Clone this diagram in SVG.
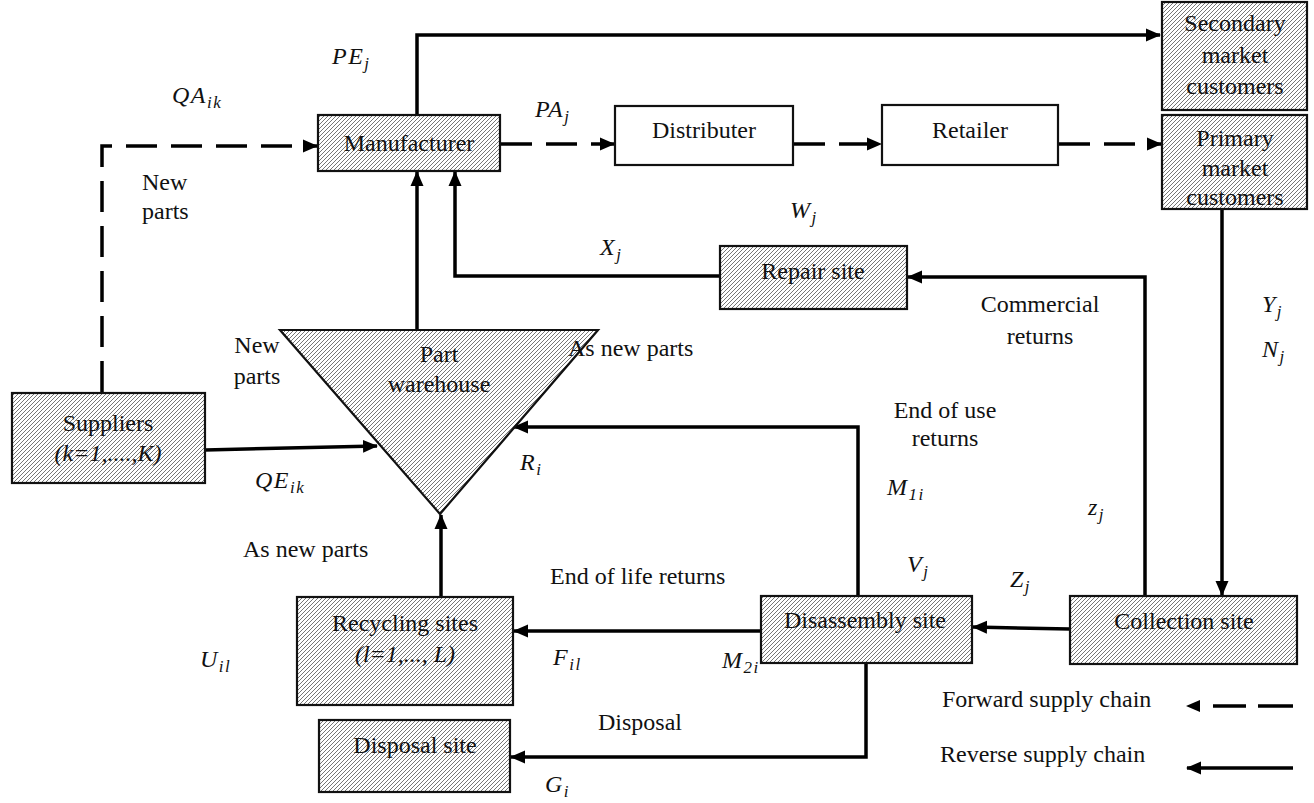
<svg xmlns="http://www.w3.org/2000/svg" width="1314" height="803" viewBox="0 0 1314 803">
<style>
text{font-family:"Liberation Serif","Times New Roman",serif;font-size:24px;fill:#111}
.c{text-anchor:middle}
.m{font-style:italic;font-size:24px;letter-spacing:1.5px}
.s{font-size:17px}
.it{font-style:italic}
.box{fill:url(#hatch);stroke:#111;stroke-width:2.2}
.plain{fill:#fff;stroke:#111;stroke-width:2.2}
.ln{fill:none;stroke:#000;stroke-width:3.5}
.dash{fill:none;stroke:#000;stroke-width:3.5;stroke-dasharray:31 14}
</style>
<defs>
<pattern id="hatch" patternUnits="userSpaceOnUse" width="4" height="4">
<rect width="4" height="4" fill="#fff"/>
<path d="M-1,1 L1,-1 M0,4 L4,0 M3,5 L5,3" stroke="#666" stroke-width="0.9"/>
</pattern>
<marker id="ah" viewBox="0 0 15 15" markerUnits="userSpaceOnUse" markerWidth="15" markerHeight="15" refX="14" refY="7.5" orient="auto">
<path d="M0,1 L15,7.5 L0,14 Z" fill="#000"/>
</marker>
</defs>

<g id="connectors">
<path class="ln" d="M417,115 V35 H1160" marker-end="url(#ah)"/>
<path class="dash" d="M501,144 H614" marker-end="url(#ah)"/>
<path class="dash" d="M794,144 H881" marker-end="url(#ah)"/>
<path class="dash" d="M1059,144 H1161" marker-end="url(#ah)"/>
<path class="dash" d="M102,392 V146 H317" marker-end="url(#ah)"/>
<path class="ln" d="M205,450 L377,446" marker-end="url(#ah)"/>
<path class="ln" d="M417,330 V172" marker-end="url(#ah)"/>
<path class="ln" d="M720,276 H455 V172" marker-end="url(#ah)"/>
<path class="ln" d="M1222,210 V595" marker-end="url(#ah)"/>
<path class="ln" d="M1145,596 V277 H908" marker-end="url(#ah)"/>
<path class="ln" d="M858,596 V427 H514" marker-end="url(#ah)"/>
<path class="ln" d="M1070,629 L973,627" marker-end="url(#ah)"/>
<path class="ln" d="M761,631 H514" marker-end="url(#ah)"/>
<path class="ln" d="M441,597 V515" marker-end="url(#ah)"/>
<path class="ln" d="M866,663 V757 H511" marker-end="url(#ah)"/>
</g>

<g id="manufacturer"><rect class="box" x="318" y="115" width="182" height="56"/><text class="c" x="409" y="151">Manufacturer</text></g>
<g id="distributer"><rect class="plain" x="615" y="106" width="178" height="59"/><text class="c" x="704" y="138">Distributer</text></g>
<g id="retailer"><rect class="plain" x="882" y="105" width="176" height="60"/><text class="c" x="970" y="138">Retailer</text></g>
<g id="secondary"><rect class="box" x="1162" y="2" width="145" height="108"/><text class="c" x="1235" y="31">Secondary</text><text class="c" x="1235" y="63">market</text><text class="c" x="1235" y="94">customers</text></g>
<g id="primary"><rect class="box" x="1162" y="115" width="145" height="94"/><text class="c" x="1235" y="146">Primary</text><text class="c" x="1235" y="176">market</text><text class="c" x="1235" y="205">customers</text></g>
<g id="repair"><rect class="box" x="720" y="246" width="187" height="63"/><text class="c" x="813" y="279">Repair site</text></g>
<g id="suppliers"><rect class="box" x="12" y="393" width="193" height="90"/><text class="c" x="108" y="431">Suppliers</text><text class="c it" x="108" y="461">(k=1,....,K)</text></g>
<g id="warehouse"><path class="box" d="M280,330 H598 L440,514 Z"/><text class="c" x="439" y="362">Part</text><text class="c" x="439" y="392">warehouse</text></g>
<g id="recycling"><rect class="box" x="297" y="597" width="216" height="108"/><text class="c" x="405" y="631">Recycling sites</text><text class="c it" x="405" y="662">(l=1,..., L)</text></g>
<g id="disassembly"><rect class="box" x="761" y="596" width="211" height="67"/><text class="c" x="865" y="628">Disassembly site</text></g>
<g id="collection"><rect class="box" x="1070" y="596" width="227" height="68"/><text class="c" x="1184" y="629">Collection site</text></g>
<g id="disposal"><rect class="box" x="319" y="720" width="191" height="72"/><text class="c" x="415" y="753">Disposal site</text></g>

<g id="labels">
<text class="m" x="332" y="64">PE<tspan class="s" dy="5">j</tspan></text>
<text class="m" x="172" y="103">QA<tspan class="s" dy="5">ik</tspan></text>
<text x="142" y="190">New</text><text x="142" y="219">parts</text>
<text class="m" x="535" y="117">PA<tspan class="s" dy="5">j</tspan></text>
<text class="m" x="790" y="218">W<tspan class="s" dy="5">j</tspan></text>
<text class="m" x="600" y="255">X<tspan class="s" dy="5">j</tspan></text>
<text class="m" x="1262" y="312">Y<tspan class="s" dy="5">j</tspan></text>
<text class="m" x="1262" y="357">N<tspan class="s" dy="5">j</tspan></text>
<text class="c" x="1040" y="312">Commercial</text><text class="c" x="1040" y="344">returns</text>
<text class="c" x="257" y="353">New</text><text class="c" x="257" y="384">parts</text>
<text x="568" y="356">As new parts</text>
<text class="c" x="945" y="418">End of use</text><text class="c" x="945" y="446">returns</text>
<text class="m" x="520" y="470">R<tspan class="s" dy="5">i</tspan></text>
<text class="m" x="255" y="488">QE<tspan class="s" dy="5">ik</tspan></text>
<text class="m" x="887" y="495">M<tspan class="s" dy="5">1i</tspan></text>
<text class="m" x="1088" y="515">z<tspan class="s" dy="5">j</tspan></text>
<text x="243" y="557">As new parts</text>
<text x="550" y="584">End of life returns</text>
<text class="m" x="907" y="572">V<tspan class="s" dy="5">j</tspan></text>
<text class="m" x="1010" y="587">Z<tspan class="s" dy="5">j</tspan></text>
<text class="m" x="200" y="667">U<tspan class="s" dy="5">il</tspan></text>
<text class="m" x="553" y="665">F<tspan class="s" dy="5">il</tspan></text>
<text class="m" x="722" y="668">M<tspan class="s" dy="5">2i</tspan></text>
<text x="598" y="730">Disposal</text>
<text class="m" x="545" y="792">G<tspan class="s" dy="5">i</tspan></text>
</g>

<g id="legend">
<text x="942" y="707">Forward supply chain</text>
<text x="940" y="762">Reverse supply chain</text>
<path d="M1186,706 L1200,700 L1200,712 Z" fill="#000"/>
<path d="M1213,706 H1246 M1258,706 H1293" stroke="#000" stroke-width="3.5"/>
<path class="ln" d="M1293,768 H1187" marker-end="url(#ah)"/>
</g>
</svg>
